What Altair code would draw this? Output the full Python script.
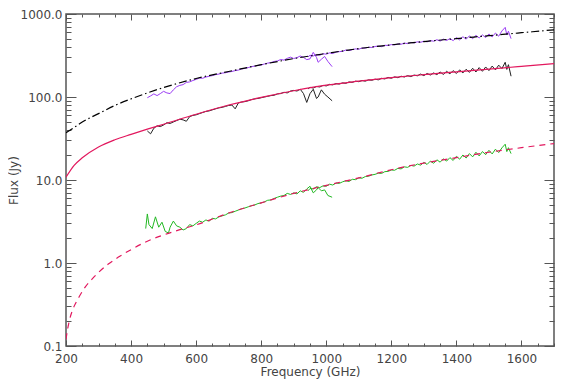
import altair as alt
import pandas as pd

# ---------------- model curves ----------------
mod_f = [200, 225, 250, 300, 350, 400, 450, 500, 600, 700, 800, 900, 1000,
         1100, 1200, 1300, 1400, 1500, 1600, 1700]
dashdot_flux = [37, 43, 50, 63, 79, 95, 112, 130, 167, 203, 245, 290, 335,
                383, 425, 465, 505, 548, 595, 645]
solid_flux = [10.8, 15, 18.5, 25, 30.5, 35.5, 41, 47, 62, 80, 99, 119, 139,
              155, 171, 186, 201, 217, 234, 252]
dash_f = [200, 205, 210, 220, 230, 240, 260, 280, 300, 330, 360, 400, 450, 500,
          550, 600, 700, 800, 900, 1000, 1100, 1200, 1300, 1400, 1500, 1600, 1700]
dash_flux = [0.12, 0.16, 0.2, 0.27, 0.33, 0.39, 0.52, 0.64, 0.77, 0.97, 1.17,
             1.45, 1.83, 2.18, 2.52, 2.88, 4.0, 5.3, 6.9, 8.6, 10.6, 13.3, 16.0,
             18.6, 21.6, 24.5, 27.5]

# ---------------- spectra ----------------
slw_f = [450, 460, 470, 480, 490, 500, 510, 520, 530, 540, 550, 560, 570, 580,
         590, 600, 610, 620, 630, 640, 650, 660, 670, 680, 690, 700, 710, 720,
         730, 740, 750, 760, 770, 780, 790, 800, 810, 820, 830, 840, 850, 860,
         870, 880, 890, 900, 910, 920, 930, 940, 950, 960, 970, 975, 985, 995,
         1005, 1018]
purple_slw = [98, 103, 109, 104, 110, 117, 112, 110, 122, 133, 138, 141, 150,
              152, 158, 163, 169, 168, 174, 178, 181, 186, 189, 194, 196, 200,
              203, 208, 211, 218, 221, 226, 232, 236, 240, 243, 250, 256, 260,
              268, 272, 283, 278, 292, 302, 291, 298, 312, 300, 282, 288, 345,
              300, 262, 285, 308, 268, 232]
black_slw = [39, 36, 42, 45, 44, 46, 49, 48, 50, 52, 54, 53, 51, 58, 60, 61, 63,
             65, 67, 68, 70, 72, 74, 75, 77, 79, 80, 72, 85, 87, 88, 90, 93, 95,
             96, 98, 100, 102, 104, 105, 109, 110, 114, 112, 118, 120, 118, 124,
             110, 86, 110, 124, 96, 100, 122, 108, 100, 90]
green_slw = [3.0, 3.3, 2.8, 3.5, 2.9, 2.6, 2.4, 2.7, 3.2, 2.8, 2.7, 2.5, 2.6,
             2.9, 2.8, 3.0, 3.2, 3.1, 3.3, 3.2, 3.45, 3.4, 3.6, 3.7, 3.8, 4.0,
             4.05, 4.2, 4.35, 4.5, 4.6, 4.75, 4.9, 5.0, 5.2, 5.3, 5.45, 5.7,
             5.75, 6.0, 6.2, 6.4, 6.5, 6.9, 6.7, 7.0, 6.8, 7.4, 7.1, 7.8, 8.4,
             7.0, 7.6, 8.1, 7.4, 7.6, 6.5, 6.2]
green_edge_f = [445, 450, 455, 465, 475, 485, 495, 505, 515]
green_edge = [2.6, 3.9, 2.9, 2.6, 3.6, 2.7, 3.1, 2.4, 2.3]

ssw_f = [944, 950, 960, 970, 980, 990, 1000, 1010, 1020, 1030, 1040, 1050,
         1060, 1070, 1080, 1090, 1100, 1110, 1120, 1130, 1140, 1150, 1160,
         1170, 1180, 1190, 1200, 1210, 1220, 1230, 1240, 1250, 1260, 1270,
         1280, 1290, 1300, 1310, 1320, 1330, 1340, 1350, 1360, 1370, 1380,
         1390, 1400, 1410, 1420, 1430, 1440, 1450, 1460, 1470, 1480, 1490,
         1500, 1510, 1520, 1530, 1540, 1550, 1555, 1560, 1568]
purple_ssw = [305, 318, 312, 324, 318, 332, 328, 340, 334, 348, 352, 355, 368,
              362, 372, 380, 376, 390, 388, 398, 395, 406, 410, 404, 420, 418,
              428, 424, 436, 432, 446, 440, 455, 448, 462, 456, 470, 462, 478,
              470, 490, 472, 498, 480, 505, 478, 520, 488, 532, 498, 545, 505,
              552, 515, 560, 520, 575, 530, 590, 540, 625, 690, 560, 620, 505]
black_ssw = [125, 131, 128, 134, 132, 138, 136, 142, 140, 145, 143, 148, 146,
             152, 150, 155, 153, 158, 155, 161, 159, 164, 161, 168, 165, 172,
             168, 175, 171, 178, 174, 181, 176, 184, 180, 189, 181, 192, 184,
             195, 186, 200, 187, 204, 190, 208, 192, 212, 195, 216, 198, 222,
             200, 226, 204, 230, 208, 236, 212, 242, 220, 262, 215, 245, 178]
green_ssw = [7.4, 7.9, 7.8, 8.3, 8.1, 8.5, 8.4, 8.9, 8.7, 9.2, 9.1, 9.5, 9.8,
             9.6, 10.2, 10.1, 10.6, 10.5, 11.0, 11.1, 11.5, 11.7, 12.1, 12.0,
             12.6, 12.7, 13.2, 13.1, 13.8, 13.6, 14.4, 14.2, 15.0, 14.7, 15.6,
             15.1, 16.3, 15.4, 16.9, 15.9, 17.5, 16.4, 18.0, 16.9, 18.6, 17.2,
             19.3, 17.8, 20.0, 18.4, 20.8, 19.0, 21.6, 19.5, 22.0, 20.2, 22.8,
             20.6, 23.5, 21.4, 24.4, 27.0, 22.0, 24.5, 20.8]

series_names = ["purple", "black", "green"]
series_colors = ["#9B3CF5", "#222222", "#22B822"]
model_red = "#E2185E"

# ---------------- tables ----------------
rows = []
def add(fs, vs, series, seg):
    for f, v in zip(fs, vs):
        rows.append({"f": f, "flux": v, "series": series, "seg": seg})

add(slw_f, purple_slw, "purple", "p_slw")
add(ssw_f, purple_ssw, "purple", "p_ssw")
add(slw_f, black_slw, "black", "b_slw")
add(ssw_f, black_ssw, "black", "b_ssw")
g_f = green_edge_f + slw_f[7:]
g_v = green_edge + green_slw[7:]
add(g_f, g_v, "green", "g_slw")
add(ssw_f, green_ssw, "green", "g_ssw")
spec = pd.DataFrame(rows)

m1 = pd.DataFrame({"f": mod_f, "flux": dashdot_flux})
m2 = pd.DataFrame({"f": mod_f, "flux": solid_flux})
m3 = pd.DataFrame({"f": dash_f, "flux": dash_flux})

# ---------------- scales & axes ----------------
xs = alt.Scale(domain=[200, 1700], nice=False, zero=False)
ys = alt.Scale(type="log", domain=[0.1, 1000], nice=False)

axc = "#555555"
txt = "#444444"
x_major = list(range(200, 1701, 200))
x_minor = [v for v in range(250, 1701, 50) if v % 200 != 0]
y_major = [0.1, 1, 10, 100, 1000]
y_minor = [m * d for d in [0.1, 1, 10, 100] for m in range(2, 10)]

common = dict(domain=False, grid=False, tickColor=axc, tickWidth=1)

ax_bottom = alt.Axis(orient="bottom", values=x_major, tickSize=6, offset=-6,
                     labelPadding=7, labelFlush=False, labelOverlap=False,
                     labelFont="DejaVu Sans", labelFontSize=12,
                     labelColor=txt, title="Frequency (GHz)",
                     titleFont="DejaVu Sans", titleFontSize=12,
                     titleFontWeight="normal", titleColor=txt,
                     titlePadding=2, format="d", **common)
ax_bottom_minor = alt.Axis(orient="bottom", values=x_minor, tickSize=3,
                           offset=-3, labels=False, title=None, **common)
ax_top = alt.Axis(orient="top", values=x_major, tickSize=6, offset=-6,
                  labels=False, title=None, **common)
ax_top_minor = alt.Axis(orient="top", values=x_minor, tickSize=3, offset=-3,
                        labels=False, title=None, **common)

ax_left = alt.Axis(orient="left", values=y_major, tickSize=10, offset=-10,
                   labelPadding=4, labelFlush=False, labelOverlap=False,
                   labelFont="DejaVu Sans", labelFontSize=12,
                   labelColor=txt,
                   labelExpr="format(datum.value, '.1f')",
                   title="Flux (Jy)", titleFont="DejaVu Sans",
                   titleFontSize=12, titleFontWeight="normal",
                   titleColor=txt, titlePadding=0, **common)
ax_left_minor = alt.Axis(orient="left", values=y_minor, tickSize=5, offset=-5,
                         labels=False, title=None, **common)
ax_right = alt.Axis(orient="right", values=y_major, tickSize=10, offset=-10,
                    labels=False, title=None, **common)
ax_right_minor = alt.Axis(orient="right", values=y_minor, tickSize=5,
                          offset=-5, labels=False, title=None, **common)

spectra = alt.Chart(spec).mark_line(strokeWidth=1, clip=True).encode(
    x=alt.X("f:Q", scale=xs, axis=ax_bottom),
    y=alt.Y("flux:Q", scale=ys, axis=ax_left),
    color=alt.Color("series:N", scale=alt.Scale(domain=series_names,
                                                range=series_colors),
                    legend=None),
    detail="seg:N",
)

dashdot = alt.Chart(m1).mark_line(color="black", strokeWidth=1.2,
                                  strokeDash=[8, 3, 1.5, 3],
                                  interpolate="monotone", clip=True).encode(
    x=alt.X("f:Q", scale=xs, axis=ax_bottom_minor),
    y=alt.Y("flux:Q", scale=ys, axis=ax_left_minor),
)

solid = alt.Chart(m2).mark_line(color=model_red, strokeWidth=1.2,
                                interpolate="monotone", clip=True).encode(
    x=alt.X("f:Q", scale=xs, axis=ax_top),
    y=alt.Y("flux:Q", scale=ys, axis=ax_right),
)

dashed = alt.Chart(m3).mark_line(color=model_red, strokeWidth=1.2,
                                 strokeDash=[6, 5],
                                 interpolate="monotone", clip=True).encode(
    x=alt.X("f:Q", scale=xs, axis=ax_top_minor),
    y=alt.Y("flux:Q", scale=ys, axis=ax_right_minor),
)

chart = alt.layer(spectra, dashdot, solid, dashed).resolve_axis(
    x="independent", y="independent"
).properties(
    width=488, height=332,
    padding={"left": 58, "top": 6, "right": 1, "bottom": 35},
    autosize=alt.AutoSizeParams(type="none"),
).configure_view(stroke=axc, strokeWidth=1.5)

chart.save("out.html", embed_options={"renderer": "svg", "actions": False})
